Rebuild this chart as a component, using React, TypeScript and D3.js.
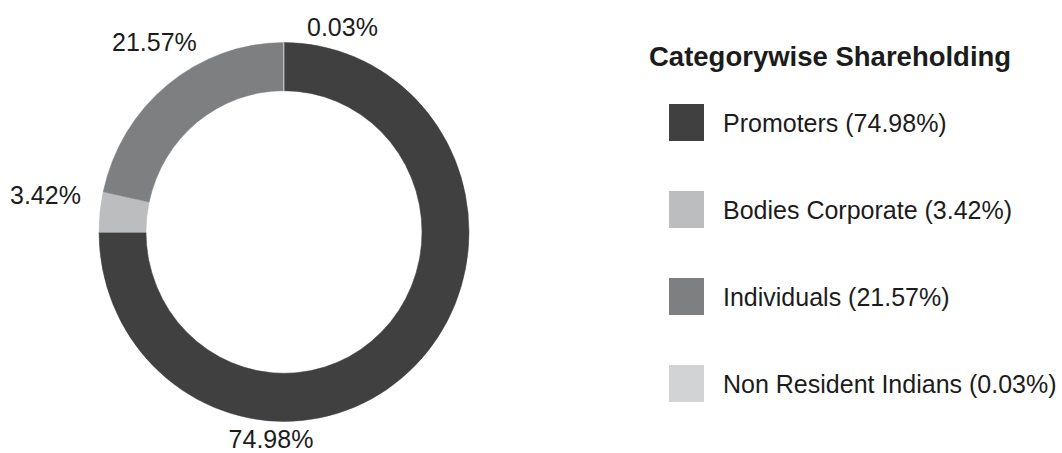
import React from "react";
import * as d3 from "d3";

const categories = ["Promoters", "Bodies Corporate", "Individuals", "Non Resident Indians"];
const values = [74.98, 3.42, 21.57, 0.03];
const colors = ["#404040", "#bcbdbf", "#7e7f81", "#d2d3d5"];
const legendTitle = "Categorywise Shareholding";

export default function App() {
  const W = 1062, H = 453;
  const cx = 284, cy = 232, rOuter = 185, rInner = 138, sy = 1.024;
  const pie = d3.pie<number>().sort(null).value((d) => d)(values);
  const arc = d3.arc<d3.PieArcDatum<number>>().innerRadius(rInner).outerRadius(rOuter);
  const fmt = (v: number) => `${v.toFixed(2)}%`;
  // label positions (layout)
  const labelPos = [
    { x: 271, y: 448, anchor: "middle" },
    { x: 10, y: 204, anchor: "start" },
    { x: 112, y: 51, anchor: "start" },
    { x: 307, y: 36, anchor: "start" },
  ];
  const font = "'Liberation Sans', Arial, Helvetica, sans-serif";
  const legendY = d3.scaleLinear().domain([0, 1]).range([122, 209]);
  return (
    <svg width={W} height={H} style={{ position: "absolute", left: 0, top: 0, background: "#fff" }} fontFamily={font}>
      <g transform={`translate(${cx},${cy}) scale(1,${sy})`}>
        {pie.map((p, i) => (
          <path key={i} d={arc(p) || ""} fill={colors[i]} stroke={colors[i]} strokeWidth={0.5} />
        ))}
      </g>
      {pie.map((p, i) => (
        <text key={i} x={labelPos[i].x} y={labelPos[i].y} textAnchor={labelPos[i].anchor as any} fontSize={25} fill="#1c1c1c">
          {fmt(values[i])}
        </text>
      ))}
      <text x={649} y={66} fontSize={27.5} fontWeight="bold" fill="#1c1c1c">{legendTitle}</text>
      {categories.map((c, i) => (
        <g key={c}>
          <rect x={669} y={legendY(i) - 18} width={35} height={37} fill={colors[i]} />
          <text x={723} y={legendY(i) + 10} fontSize={25} fill="#1c1c1c">
            {`${c} (${fmt(values[i])})`}
          </text>
        </g>
      ))}
    </svg>
  );
}
